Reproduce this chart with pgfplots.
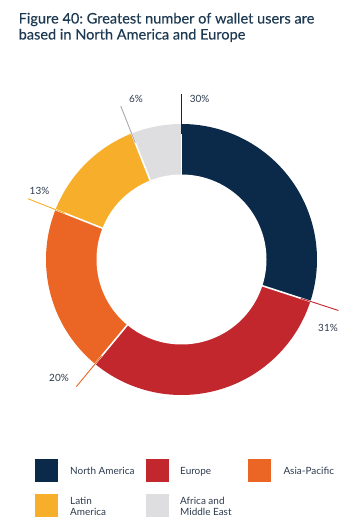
\documentclass[border=0pt]{standalone}
\usepackage{fontspec}
\setmainfont{Lato}
\newfontfamily\titlefont[FakeBold=0.2]{Lato}
\usepackage{pgfplots}
\pgfplotsset{compat=1.18}
\usepackage{pgfplotstable}
\definecolor{cNA}{HTML}{0B2A4A}
\definecolor{cEU}{HTML}{C1272D}
\definecolor{cAP}{HTML}{EB6624}
\definecolor{cLA}{HTML}{F7AE2A}
\definecolor{cAF}{HTML}{DEDDDF}
\definecolor{cAFline}{HTML}{A9A9AD}
\definecolor{titlec}{HTML}{1E3A52}
\definecolor{textc}{HTML}{2E3B4E}
\pgfplotstableread{
idx region value
0 NorthAmerica 30
1 Europe 31
2 AsiaPacific 20
3 LatinAmerica 13
4 AfricaMiddleEast 6
}\datatable
\newcommand\cx{181.5}
\newcommand\cy{259.5}
\newcommand\Ro{135.5}
\newcommand\Ri{85}
\newcommand\slice[3]{%
  \addplot[fill=#3, draw=none, domain=#2:#1, samples=90, variable=\t]
    ({\cx+\Ro*cos(\t)},{\cy-\Ro*sin(\t)}) -- (axis cs:\cx,\cy) -- cycle;}
\newcommand\sep[1]{%
  \addplot[white, line width=1.6bp, domain=\Ri-2:\Ro+2, samples=2, variable=\r]
    ({\cx+\r*cos(#1)},{\cy-\r*sin(#1)});}
\newcommand\leader[2]{%
  \addplot[#2, line width=0.9bp, domain=\Ro-10:165, samples=2, variable=\r]
    ({\cx+\r*cos(#1)},{\cy-\r*sin(#1)});}
\begin{document}%
\frenchspacing%
\pgfplotstablegetelem{0}{value}\of\datatable\let\vA\pgfplotsretval%
\pgfplotstablegetelem{1}{value}\of\datatable\let\vB\pgfplotsretval%
\pgfplotstablegetelem{2}{value}\of\datatable\let\vC\pgfplotsretval%
\pgfplotstablegetelem{3}{value}\of\datatable\let\vD\pgfplotsretval%
\pgfplotstablegetelem{4}{value}\of\datatable\let\vE\pgfplotsretval%
\pgfmathsetmacro\aA{90}%
\pgfmathsetmacro\aB{\aA-3.6*\vA}%
\pgfmathsetmacro\aC{\aB-3.6*\vB}%
\pgfmathsetmacro\aD{\aC-3.6*\vC}%
\pgfmathsetmacro\aE{\aD-3.6*\vD}%
\pgfmathsetmacro\aF{\aE-3.6*\vE}%
\begin{tikzpicture}
\begin{axis}[
  scale only axis, width=358bp, height=532bp,
  xmin=0, xmax=358, ymin=0, ymax=532, y dir=reverse,
  hide axis, clip=false]
\slice{\aA}{\aB}{cNA}
\slice{\aB}{\aC}{cEU}
\slice{\aC}{\aD}{cAP}
\slice{\aD}{\aE}{cLA}
\slice{\aE}{\aF}{cAF}
\addplot[fill=white, draw=none, domain=0:360, samples=160, variable=\t]
  ({\cx+\Ri*cos(\t)},{\cy-\Ri*sin(\t)}) -- cycle;
\sep{\aA}\sep{\aB}\sep{\aC}\sep{\aD}\sep{\aE}
\leader{\aA}{cNA}
\leader{\aB}{cEU}
\leader{\aC}{cAP}
\leader{\aD}{cLA}
\leader{\aE}{cAFline}
% value labels
\begin{scope}[every node/.style={font=\fontsize{10}{12}\selectfont, text=textc, anchor=base, inner sep=0pt}]
\node at (axis cs:199.6,102) {30\%};
\node at (axis cs:328,331) {31\%};
\node at (axis cs:59,381.5) {20\%};
\node at (axis cs:39.5,194) {13\%};
\node at (axis cs:136,102) {6\%};
\end{scope}
% title
\begin{scope}[every node/.style={font=\titlefont\fontsize{14.6}{16}\selectfont, text=titlec, anchor=base west, inner sep=0pt}]
\node at (axis cs:18.5,23.5) {Figure 40: Greatest number of wallet users are};
\node at (axis cs:18.5,39.5) {based in North America and Europe};
\end{scope}
% legend
\fill[cNA] (axis cs:35,459) rectangle (axis cs:58,482);
\fill[cEU] (axis cs:146,459) rectangle (axis cs:169,482);
\fill[cAP] (axis cs:248,459) rectangle (axis cs:271,482);
\fill[cLA] (axis cs:35,494) rectangle (axis cs:58,517);
\fill[cAF] (axis cs:146,494) rectangle (axis cs:169,517);
\begin{scope}[every node/.style={font=\fontsize{10}{12}\selectfont, text=textc, anchor=base west, inner sep=0pt}]
\node at (axis cs:70,474) {North America};
\node at (axis cs:180,474) {Europe};
\node at (axis cs:283.3,474) {Asia-Pacific};
\node at (axis cs:70,504) {Latin};
\node at (axis cs:70,515.5) {America};
\node at (axis cs:180,504) {Africa and};
\node at (axis cs:180,515.5) {Middle East};
\end{scope}
\end{axis}
\path (current axis.south west) rectangle (current axis.north east);
\end{tikzpicture}%
\end{document}
